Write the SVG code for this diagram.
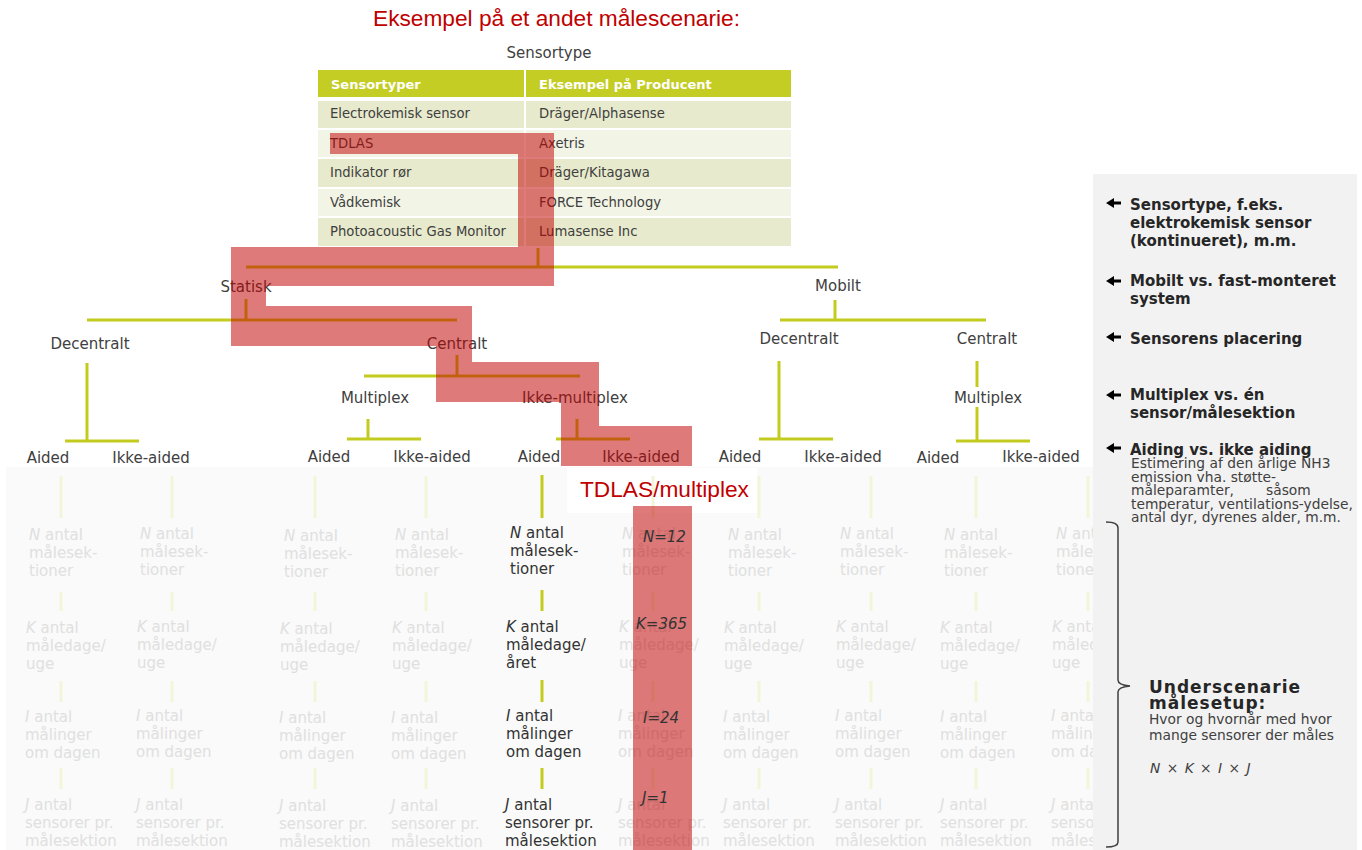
<svg xmlns="http://www.w3.org/2000/svg" width="1362" height="850" viewBox="0 0 1362 850">
<style>
text{font-family:"DejaVu Sans",Verdana,sans-serif}
.lbl{font-size:15px;fill:#404040}
.cell{font-size:13.2px;fill:#404040}
.hdr{font-size:13px;font-weight:bold;fill:#ffffff}
.ttl{font-family:"Liberation Sans",Arial,sans-serif;font-size:22.7px;fill:#C00000}
.ln{stroke:#C3CB1F;stroke-width:3;fill:none}
.pale{stroke:#F3F5D8;stroke-width:3;fill:none}
.fade{font-size:15px;fill:#E0E0E0}
.hi{font-size:15px;fill:#333333}
.val{font-size:15px;fill:#333333;font-style:italic}
.nb{font-size:15px;font-weight:bold;fill:#262626}
.nb2{font-size:17px;font-weight:bold;fill:#262626;letter-spacing:1px}
.nt{font-size:13.8px;fill:#404040}
.it{font-style:italic}
.hrow{fill:#C3CD23}
.rd{fill:#E7EACC}
.rl{fill:#F2F4E6}
</style>
<defs>
<path id="arr" d="M0,0 L8,-5 L8,-1.6 L15,-1.6 L15,1.6 L8,1.6 L8,5 Z" fill="#000"/>
</defs>
<rect width="1362" height="850" fill="#ffffff"/>
<rect x="6" y="467" width="1087" height="383" fill="#FAFAFA"/>
<rect x="567" y="468" width="190" height="45" fill="#FFFFFF"/>

<g id="title"><text class="ttl" x="373" y="26">Eksempel på et andet målescenarie:</text></g>

<g id="table">
<text class="lbl" x="549" y="58" text-anchor="middle">Sensortype</text>
<rect class="hrow" x="318" y="70" width="206" height="27"/>
<rect class="hrow" x="526" y="70" width="265" height="27"/>
<rect class="rd" x="318" y="101" width="206" height="27"/>
<rect class="rd" x="526" y="101" width="265" height="27"/>
<rect class="rl" x="318" y="130" width="206" height="27"/>
<rect class="rl" x="526" y="130" width="265" height="27"/>
<rect class="rd" x="318" y="159" width="206" height="28"/>
<rect class="rd" x="526" y="159" width="265" height="28"/>
<rect class="rl" x="318" y="189" width="206" height="27"/>
<rect class="rl" x="526" y="189" width="265" height="27"/>
<rect class="rd" x="318" y="218" width="206" height="28"/>
<rect class="rd" x="526" y="218" width="265" height="28"/>
<text class="hdr" x="331" y="89">Sensortyper</text>
<text class="hdr" x="539" y="89">Eksempel på Producent</text>
<text class="cell" x="330" y="118">Electrokemisk sensor</text>
<text class="cell" x="539" y="118">Dräger/Alphasense</text>
<text class="cell" x="330" y="148">TDLAS</text>
<text class="cell" x="539" y="148">Axetris</text>
<text class="cell" x="330" y="177">Indikator rør</text>
<text class="cell" x="539" y="177">Dräger/Kitagawa</text>
<text class="cell" x="330" y="207">Vådkemisk</text>
<text class="cell" x="539" y="207">FORCE Technology</text>
<text class="cell" x="330" y="236">Photoacoustic Gas Monitor</text>
<text class="cell" x="539" y="236">Lumasense Inc</text>
</g>

<g id="connectors">
<path class="ln" d="M538,248 V267 M246,267 H838"/>
<path class="ln" d="M246,299 V320 M87,320 H457"/>
<path class="ln" d="M87,363 V441 M65,441 H139"/>
<path class="ln" d="M457,355 V376 M364,376 H580"/>
<path class="ln" d="M368,419 V439 M347,439 H421"/>
<path class="ln" d="M577,419 V439 M556,439 H630"/>
<path class="ln" d="M835,300 V320 M780,320 H986"/>
<path class="ln" d="M779,361 V439 M759,439 H833"/>
<path class="ln" d="M977,361 V387 M977,407 V441 M956,441 H1030"/>
<path class="ln" d="M542,475 V518 M542,590 V611 M542,680 V702 M542,768 V789"/>
<path class="pale" d="M61,476 V518 M61,592 V611 M61,681 V702 M61,768 V789"/>
<path class="pale" d="M172,476 V518 M172,592 V611 M172,681 V702 M172,768 V789"/>
<path class="pale" d="M315,476 V518 M315,592 V611 M315,681 V702 M315,768 V789"/>
<path class="pale" d="M426,476 V518 M426,592 V611 M426,681 V702 M426,768 V789"/>
<path class="pale" d="M653,476 V518 M653,592 V611 M653,681 V702 M653,768 V789"/>
<path class="pale" d="M759,476 V518 M759,592 V611 M759,681 V702 M759,768 V789"/>
<path class="pale" d="M871,476 V518 M871,592 V611 M871,681 V702 M871,768 V789"/>
<path class="pale" d="M976,476 V518 M976,592 V611 M976,681 V702 M976,768 V789"/>
<path class="pale" d="M1088,476 V518 M1088,592 V611 M1088,681 V702 M1088,768 V789"/>
</g>

<g id="tree">
<g id="n-statisk"><text class="lbl" x="246" y="292" text-anchor="middle">Statisk</text></g>
<g id="n-mobilt"><text class="lbl" x="838" y="291" text-anchor="middle">Mobilt</text></g>
<g id="n-dec1"><text class="lbl" x="90" y="349" text-anchor="middle">Decentralt</text></g>
<g id="n-cen1"><text class="lbl" x="457" y="349" text-anchor="middle">Centralt</text></g>
<g id="n-dec2"><text class="lbl" x="799" y="344" text-anchor="middle">Decentralt</text></g>
<g id="n-cen2"><text class="lbl" x="987" y="344" text-anchor="middle">Centralt</text></g>
<g id="n-mp1"><text class="lbl" x="375" y="403" text-anchor="middle">Multiplex</text></g>
<g id="n-imp1"><text class="lbl" x="575" y="403" text-anchor="middle">Ikke-multiplex</text></g>
<g id="n-mp2"><text class="lbl" x="988" y="403" text-anchor="middle">Multiplex</text></g>
<g id="n-a1"><text class="lbl" x="48" y="463" text-anchor="middle">Aided</text></g>
<g id="n-i1"><text class="lbl" x="151" y="463" text-anchor="middle">Ikke-aided</text></g>
<g id="n-a2"><text class="lbl" x="329" y="462" text-anchor="middle">Aided</text></g>
<g id="n-i2"><text class="lbl" x="432" y="462" text-anchor="middle">Ikke-aided</text></g>
<g id="n-a3"><text class="lbl" x="539" y="462" text-anchor="middle">Aided</text></g>
<g id="n-i3"><text class="lbl" x="641" y="462" text-anchor="middle">Ikke-aided</text></g>
<g id="n-a4"><text class="lbl" x="740" y="462" text-anchor="middle">Aided</text></g>
<g id="n-i4"><text class="lbl" x="843" y="462" text-anchor="middle">Ikke-aided</text></g>
<g id="n-a5"><text class="lbl" x="938" y="463" text-anchor="middle">Aided</text></g>
<g id="n-i5"><text class="lbl" x="1041" y="462" text-anchor="middle">Ikke-aided</text></g>
</g>

<g id="faded-columns">
<g id="col1">
<text class="fade" x="29" y="540"><tspan class="it">N</tspan> antal<tspan x="29" y="558">målesek-</tspan><tspan x="29" y="576">tioner</tspan></text>
<text class="fade" x="26" y="633"><tspan class="it">K</tspan> antal<tspan x="26" y="651">måledage/</tspan><tspan x="26" y="669">uge</tspan></text>
<text class="fade" x="25" y="722"><tspan class="it">I</tspan> antal<tspan x="25" y="740">målinger</tspan><tspan x="25" y="758">om dagen</tspan></text>
<text class="fade" x="25" y="810"><tspan class="it">J</tspan> antal<tspan x="25" y="828">sensorer pr.</tspan><tspan x="25" y="846">målesektion</tspan></text>
</g>
<g id="col2">
<text class="fade" x="140" y="539"><tspan class="it">N</tspan> antal<tspan x="140" y="557">målesek-</tspan><tspan x="140" y="575">tioner</tspan></text>
<text class="fade" x="137" y="632"><tspan class="it">K</tspan> antal<tspan x="137" y="650">måledage/</tspan><tspan x="137" y="668">uge</tspan></text>
<text class="fade" x="136" y="721"><tspan class="it">I</tspan> antal<tspan x="136" y="739">målinger</tspan><tspan x="136" y="757">om dagen</tspan></text>
<text class="fade" x="136" y="810"><tspan class="it">J</tspan> antal<tspan x="136" y="828">sensorer pr.</tspan><tspan x="136" y="846">målesektion</tspan></text>
</g>
<g id="col3">
<text class="fade" x="284" y="541"><tspan class="it">N</tspan> antal<tspan x="284" y="559">målesek-</tspan><tspan x="284" y="577">tioner</tspan></text>
<text class="fade" x="280" y="634"><tspan class="it">K</tspan> antal<tspan x="280" y="652">måledage/</tspan><tspan x="280" y="670">uge</tspan></text>
<text class="fade" x="279" y="723"><tspan class="it">I</tspan> antal<tspan x="279" y="741">målinger</tspan><tspan x="279" y="759">om dagen</tspan></text>
<text class="fade" x="279" y="811"><tspan class="it">J</tspan> antal<tspan x="279" y="829">sensorer pr.</tspan><tspan x="279" y="847">målesektion</tspan></text>
</g>
<g id="col4">
<text class="fade" x="395" y="540"><tspan class="it">N</tspan> antal<tspan x="395" y="558">målesek-</tspan><tspan x="395" y="576">tioner</tspan></text>
<text class="fade" x="392" y="633"><tspan class="it">K</tspan> antal<tspan x="392" y="651">måledage/</tspan><tspan x="392" y="669">uge</tspan></text>
<text class="fade" x="391" y="723"><tspan class="it">I</tspan> antal<tspan x="391" y="741">målinger</tspan><tspan x="391" y="759">om dagen</tspan></text>
<text class="fade" x="391" y="811"><tspan class="it">J</tspan> antal<tspan x="391" y="829">sensorer pr.</tspan><tspan x="391" y="847">målesektion</tspan></text>
</g>
<g id="col6">
<text class="fade" x="622" y="539"><tspan class="it">N</tspan> antal<tspan x="622" y="557">målesek-</tspan><tspan x="622" y="575">tioner</tspan></text>
<text class="fade" x="619" y="632"><tspan class="it">K</tspan> antal<tspan x="619" y="650">måledage/</tspan><tspan x="619" y="668">uge</tspan></text>
<text class="fade" x="618" y="721"><tspan class="it">I</tspan> antal<tspan x="618" y="739">målinger</tspan><tspan x="618" y="757">om dagen</tspan></text>
<text class="fade" x="618" y="810"><tspan class="it">J</tspan> antal<tspan x="618" y="828">sensorer pr.</tspan><tspan x="618" y="846">målesektion</tspan></text>
</g>
<g id="col7">
<text class="fade" x="728" y="540"><tspan class="it">N</tspan> antal<tspan x="728" y="558">målesek-</tspan><tspan x="728" y="576">tioner</tspan></text>
<text class="fade" x="724" y="633"><tspan class="it">K</tspan> antal<tspan x="724" y="651">måledage/</tspan><tspan x="724" y="669">uge</tspan></text>
<text class="fade" x="723" y="722"><tspan class="it">I</tspan> antal<tspan x="723" y="740">målinger</tspan><tspan x="723" y="758">om dagen</tspan></text>
<text class="fade" x="723" y="810"><tspan class="it">J</tspan> antal<tspan x="723" y="828">sensorer pr.</tspan><tspan x="723" y="846">målesektion</tspan></text>
</g>
<g id="col8">
<text class="fade" x="840" y="539"><tspan class="it">N</tspan> antal<tspan x="840" y="557">målesek-</tspan><tspan x="840" y="575">tioner</tspan></text>
<text class="fade" x="836" y="632"><tspan class="it">K</tspan> antal<tspan x="836" y="650">måledage/</tspan><tspan x="836" y="668">uge</tspan></text>
<text class="fade" x="835" y="721"><tspan class="it">I</tspan> antal<tspan x="835" y="739">målinger</tspan><tspan x="835" y="757">om dagen</tspan></text>
<text class="fade" x="835" y="810"><tspan class="it">J</tspan> antal<tspan x="835" y="828">sensorer pr.</tspan><tspan x="835" y="846">målesektion</tspan></text>
</g>
<g id="col9">
<text class="fade" x="944" y="540"><tspan class="it">N</tspan> antal<tspan x="944" y="558">målesek-</tspan><tspan x="944" y="576">tioner</tspan></text>
<text class="fade" x="940" y="633"><tspan class="it">K</tspan> antal<tspan x="940" y="651">måledage/</tspan><tspan x="940" y="669">uge</tspan></text>
<text class="fade" x="940" y="722"><tspan class="it">I</tspan> antal<tspan x="940" y="740">målinger</tspan><tspan x="940" y="758">om dagen</tspan></text>
<text class="fade" x="940" y="810"><tspan class="it">J</tspan> antal<tspan x="940" y="828">sensorer pr.</tspan><tspan x="940" y="846">målesektion</tspan></text>
</g>
<g id="col10">
<text class="fade" x="1056" y="539"><tspan class="it">N</tspan> antal<tspan x="1056" y="557">målesek-</tspan><tspan x="1056" y="575">tioner</tspan></text>
<text class="fade" x="1052" y="632"><tspan class="it">K</tspan> antal<tspan x="1052" y="650">måledage/</tspan><tspan x="1052" y="668">uge</tspan></text>
<text class="fade" x="1051" y="721"><tspan class="it">I</tspan> antal<tspan x="1051" y="739">målinger</tspan><tspan x="1051" y="757">om dagen</tspan></text>
<text class="fade" x="1051" y="810"><tspan class="it">J</tspan> antal<tspan x="1051" y="828">sensorer pr.</tspan><tspan x="1051" y="846">målesektion</tspan></text>
</g>
</g>

<g id="col5-highlight">
<text class="hi" x="510" y="538"><tspan class="it">N</tspan> antal<tspan x="510" y="556">målesek-</tspan><tspan x="510" y="574">tioner</tspan></text>
<text class="hi" x="506" y="632"><tspan class="it">K</tspan> antal<tspan x="506" y="650">måledage/</tspan><tspan x="506" y="668">året</tspan></text>
<text class="hi" x="506" y="721"><tspan class="it">I</tspan> antal<tspan x="506" y="739">målinger</tspan><tspan x="506" y="757">om dagen</tspan></text>
<text class="hi" x="505" y="810"><tspan class="it">J</tspan> antal<tspan x="505" y="828">sensorer pr.</tspan><tspan x="505" y="846">målesektion</tspan></text>
</g>

<g id="highlight-path" fill="#C00000" fill-opacity="0.52">
<path d="M330,133 H554 V286 H266 V306 H472 V362 H599 V426 H692 V466 H561 V402 H436 V346 H231 V247 H518 V154 H330 Z"/>
<rect x="633" y="506" width="59" height="344"/>
</g>

<g id="values">
<text class="val" x="643" y="542">N=12</text>
<text class="val" x="636" y="629">K=365</text>
<text class="val" x="643" y="723">I=24</text>
<text class="val" x="642" y="803">J=1</text>
</g>

<g id="tdlas-label"><text class="ttl" x="580" y="497">TDLAS/multiplex</text></g>

<g id="side-panel">
<rect x="1093" y="174" width="264" height="676" fill="#F2F2F2"/>
<use href="#arr" x="1106" y="203"/>
<use href="#arr" x="1106" y="281"/>
<use href="#arr" x="1106" y="337"/>
<use href="#arr" x="1106" y="395"/>
<use href="#arr" x="1106" y="448"/>
<text class="nb" x="1130" y="210">Sensortype, f.eks.<tspan x="1130" y="228">elektrokemisk sensor</tspan><tspan x="1130" y="246">(kontinueret), m.m.</tspan></text>
<text class="nb" x="1130" y="286">Mobilt vs. fast-monteret<tspan x="1130" y="304">system</tspan></text>
<text class="nb" x="1130" y="344">Sensorens placering</text>
<text class="nb" x="1130" y="400">Multiplex vs. én<tspan x="1130" y="418">sensor/målesektion</tspan></text>
<text class="nb" x="1130" y="455">Aiding vs. ikke aiding</text>
<text class="nt" x="1131" y="468">Estimering af den årlige NH3<tspan x="1131" y="482">emission vha. støtte-</tspan><tspan x="1131" y="495">måleparamter,</tspan><tspan x="1266" y="495">såsom</tspan><tspan x="1131" y="508.5">temperatur, ventilations-ydelse,</tspan><tspan x="1131" y="522">antal dyr, dyrenes alder, m.m.</tspan></text>
<path d="M1106,522 Q1118,522 1118,528 V680 Q1118,685 1130,686 Q1118,687 1118,692 V842 Q1118,847 1106,847" fill="none" stroke="#404040" stroke-width="1.5"/>
<text class="nb2" x="1149" y="693">Underscenarie<tspan x="1149" y="709">målesetup:</tspan></text>
<text class="nt" x="1149" y="724">Hvor og hvornår med hvor<tspan x="1149" y="740">mange sensorer der måles</tspan></text>
<text class="nt" x="1150" y="773" font-style="italic" font-size="16" letter-spacing="1">N × K × I × J</text>
</g>
</svg>
